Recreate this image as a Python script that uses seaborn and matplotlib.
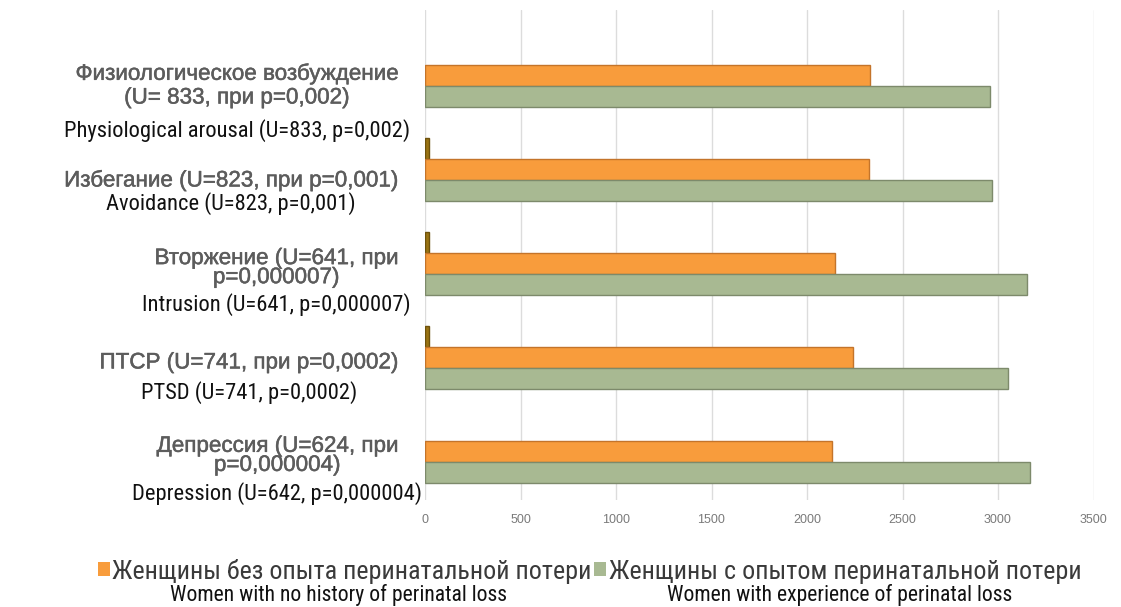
import matplotlib
matplotlib.use("Agg")
import matplotlib.pyplot as plt
import seaborn as sns
import pandas as pd
from matplotlib.patches import Patch
from matplotlib import font_manager as fm
from matplotlib.font_manager import FontProperties
import matplotlib.patheffects as pe

# ---- data ----
categories_ru = [
    "Физиологическое возбуждение\n(U= 833, при p=0,002)",
    "Избегание (U=823, при p=0,001)",
    "Вторжение (U=641, при\np=0,000007)",
    "ПТСР (U=741, при p=0,0002)",
    "Депрессия (U=624, при\np=0,000004)",
]
categories_en = [
    "Physiological arousal (U=833, p=0,002)",
    "Avoidance (U=823, p=0,001)",
    "Intrusion (U=641, p=0,000007)",
    "PTSD (U=741, p=0,0002)",
    "Depression (U=642, p=0,000004)",
]
series_ru = ["_minor", "Женщины без опыта перинатальной потери", "Женщины с опытом перинатальной потери"]
series_en = ["Women with no history of perinatal loss", "Women with experience of perinatal loss"]
minor_values = [0, 20, 20, 20, 0]
no_loss_values = [2330, 2325, 2145, 2240, 2130]
loss_values = [2960, 2970, 3150, 3050, 3170]
x_ticks = [0, 500, 1000, 1500, 2000, 2500, 3000, 3500]

rows = []
for i, cat in enumerate(categories_ru):
    rows.append((cat, series_ru[0], minor_values[i]))
    rows.append((cat, series_ru[1], no_loss_values[i]))
    rows.append((cat, series_ru[2], loss_values[i]))
df = pd.DataFrame(rows, columns=["category", "group", "value"])

colors = ["#9A7414", "#F89C3C", "#A8B992"]
edges = ["#6E520C", "#C4742A", "#7D8A6B"]

# ---- choose a narrow font if available ----
def find_narrow():
    prefs = ["liberation sans narrow", "arial narrow", "roboto condensed", "open sans condensed",
             "noto sans", "dejavu sans", "roboto", "open sans"]
    cands = []
    for f in fm.fontManager.ttflist:
        name = f.name.lower()
        st = str(f.stretch).lower()
        fn = f.fname.lower()
        is_narrow = ("narrow" in name or "condensed" in name or st in ("condensed", "semi-condensed")
                     or ("condensed" in fn and "extra" not in fn and "ultra" not in fn and "semi" not in fn))
        if not is_narrow or f.style != "normal":
            continue
        w = f.weight if isinstance(f.weight, int) else 400
        if w != 400:
            continue
        if "extra" in st or "ultra" in st:
            continue
        rank = len(prefs)
        for k, p in enumerate(prefs):
            if name.startswith(p):
                rank = k
                break
        cands.append((rank, f.fname))
    if cands:
        cands.sort()
        return cands[0][1]
    return None

narrow_path = find_narrow()

def narrow_fp(size):
    if narrow_path:
        return FontProperties(fname=narrow_path, size=size)
    return FontProperties(family="Liberation Sans", size=size)

sns.set_theme(style="white")
plt.rcParams["font.family"] = ["Liberation Sans", "DejaVu Sans"]

fig = plt.figure(figsize=(11.21, 6.07), dpi=100)
ax = fig.add_axes([425 / 1121, 1 - 500 / 607, 668.5 / 1121, 490 / 607])

sns.barplot(data=df, y="category", x="value", hue="group", orient="h",
            order=categories_ru, hue_order=series_ru, palette=colors,
            width=0.67, legend=False, ax=ax, saturation=1)

for j, cont in enumerate(ax.containers):
    for p in cont:
        if p.get_width() == 0:
            p.set_visible(False)
            continue
        p.set_edgecolor(edges[j])
        p.set_linewidth(1.0)

ax.set_xlim(0, 3500)
ax.set_ylim(4.52, -0.70)
ax.set_xticks(x_ticks)
ax.set_xticklabels([str(t) for t in x_ticks], fontsize=9, color="#7a7a7a")
ax.tick_params(axis="x", length=0, pad=10)
ax.set_yticks([])
ax.set_xlabel("")
ax.set_ylabel("")
ax.xaxis.grid(True, color="#dcdcdc", linewidth=1)
ax.set_axisbelow(True)
for s in ax.spines.values():
    s.set_visible(False)

renderer = fig.canvas.get_renderer()

def fit(text_artist, target_px):
    fig.canvas.draw()
    bb = text_artist.get_window_extent(renderer)
    w = bb.x1 - bb.x0
    if w > 0:
        text_artist.set_fontsize(text_artist.get_fontsize() * target_px / w)

# ---- category labels (Russian block + English line) ----
ru_dy = [0.11, 0.12, 0.05, 0.06, 0.05]
ru_ls = [1.17, 1.0, 0.88, 1.0, 0.88]
en_dy = [0.58, 0.36, 0.44, 0.38, 0.45]

probe = fig.text(0, 0, "Физиологическое возбуждение", fontsize=16)
fit(probe, 323)
ru_size = probe.get_fontsize()
probe.remove()

ru_texts = []
for i in range(len(categories_ru)):
    t = ax.text(-(425 - 398) / 668.5, i + ru_dy[i], categories_ru[i],
                transform=ax.get_yaxis_transform(), ha="right", va="center",
                multialignment="center", fontsize=ru_size, color="#5c5c5c",
                linespacing=ru_ls[i],
                path_effects=[pe.withStroke(linewidth=0.35, foreground="#5c5c5c")])
    ru_texts.append(t)

probe = fig.text(0, 0, categories_en[0], fontproperties=narrow_fp(16))
fit(probe, 346)
en_size = probe.get_fontsize()
probe.remove()

for i in range(len(categories_en)):
    ax.annotate(categories_en[i], xy=(0.5, i + en_dy[i]), xycoords=(ru_texts[i], "data"),
                ha="center", va="center", fontproperties=narrow_fp(en_size),
                color="#111111", annotation_clip=False)

# ---- legend ----
probe = fig.text(0, 0, series_ru[1], fontproperties=narrow_fp(18))
fit(probe, 482)
leg_size = probe.get_fontsize()
probe.remove()

probe = fig.text(0, 0, series_en[0], fontproperties=narrow_fp(16))
fit(probe, 338)
leg_en_size = probe.get_fontsize()
probe.remove()

handles = [Patch(facecolor=colors[1], edgecolor="none"),
           Patch(facecolor=colors[2], edgecolor="none")]
leg = fig.legend(handles, series_ru[1:], loc="center", bbox_to_anchor=(0.526, 1 - 571 / 607),
                 ncol=2, frameon=False, handlelength=0.45, handleheight=0.45,
                 handletextpad=0.1, columnspacing=0.1,
                 prop=narrow_fp(leg_size))
for txt in leg.get_texts():
    txt.set_color("#3a3a3a")

fig.canvas.draw()
en_shift = [-0.012, -0.005]
for k, txt in enumerate(leg.get_texts()):
    bb = txt.get_window_extent(renderer)
    cx = (bb.x0 + bb.x1) / 2 / fig.bbox.width
    fig.text(cx + en_shift[k], 1 - 595 / 607, series_en[k], ha="center", va="center",
             fontproperties=narrow_fp(leg_en_size), color="#111111")

fig.savefig("out.png", dpi=100, facecolor="white")
